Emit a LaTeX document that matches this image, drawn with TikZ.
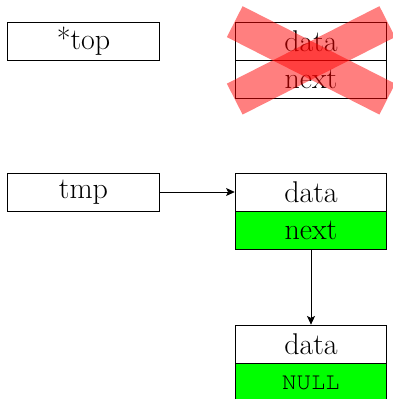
\documentclass[tikz,border=0pt]{standalone}
\usetikzlibrary{positioning,arrows.meta}

\tikzset{
  field/.style={draw, semithick, minimum width=4cm, minimum height=1cm, inner sep=0pt,
    font=\fontsize{22.5}{27}\selectfont},
  used/.style={field, fill=green},
  cross/.style={red, opacity=0.5, line width=26pt},
  link/.style={semithick, -{Stealth[length=6.5pt,width=6pt,inset=1.5pt]}}
}
\newcommand{\nullptr}{{\fontencoding{OT1}\fontfamily{pcr}\fontsize{18}{20}\selectfont NULL}}

\begin{document}
\begin{tikzpicture}[x=0.75pt,y=0.75pt,yscale=-1,xscale=1]
\useasboundingbox (0,0) rectangle (392,399);

% pointers
\node[field] (top) at (83.5,41) {*top};
\node[field] (tmp) at (83.5,192) {tmp};

% old top, freed
\node[field] (freedata) at (311,41) {data};
\node[field, below=0pt of freedata] (freenext) {next};
\draw[cross] (freedata.north west) -- (freenext.south east);
\draw[cross] (freenext.south west) -- (freedata.north east);

% new top
\node[field] (curdata) at (311,192) {data};
\node[used, below=0pt of curdata] (curnext) {next};

% last element
\node[field] (enddata) at (311,344) {data};
\node[used, below=0pt of enddata] (endnull) {\nullptr};

\draw[link] (tmp) -- (curdata);
\draw[link] (curnext) -- (enddata);

\end{tikzpicture}
\end{document}
